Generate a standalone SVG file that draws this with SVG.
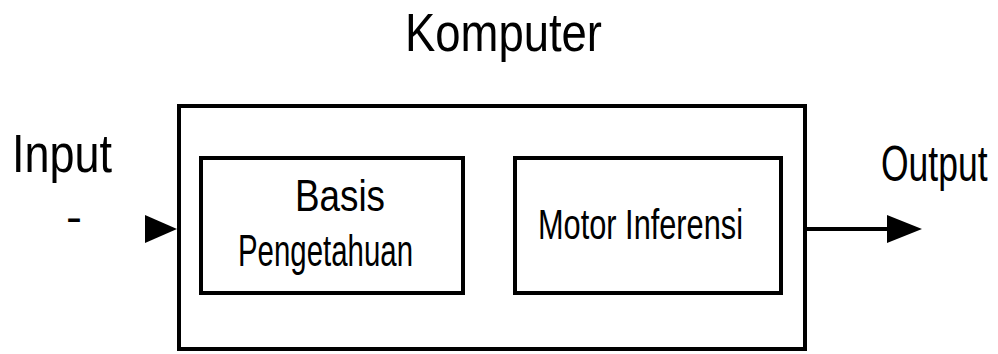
<svg xmlns="http://www.w3.org/2000/svg" width="998" height="354" viewBox="0 0 998 354">
<defs>
<style>
.box{fill:#fff;stroke:#000;stroke-width:4}
.t{font-family:"Liberation Sans",Arial,sans-serif;fill:#000}
.ln{stroke:#000;stroke-width:4;fill:none}
</style>
</defs>
<rect width="998" height="354" fill="#fff"/>
<g id="title"><text class="t" x="405" y="51" font-size="54" textLength="197" lengthAdjust="spacingAndGlyphs">Komputer</text></g>
<g id="komputer"><rect class="box" x="179" y="106" width="626" height="243"/></g>
<g id="basis"><rect class="box" x="201" y="158" width="262" height="135"/>
<text class="t" x="295" y="211" font-size="44" textLength="90" lengthAdjust="spacingAndGlyphs">Basis</text>
<text class="t" x="238" y="266" font-size="44" textLength="175" lengthAdjust="spacingAndGlyphs">Pengetahuan</text></g>
<g id="motor"><rect class="box" x="515" y="158" width="266" height="135"/>
<text class="t" x="538" y="239" font-size="43" textLength="205" lengthAdjust="spacingAndGlyphs">Motor Inferensi</text></g>
<g id="input"><text class="t" x="12" y="172" font-size="53" textLength="100" lengthAdjust="spacingAndGlyphs">Input</text>
<text class="t" x="66" y="233" font-size="46" textLength="16" lengthAdjust="spacingAndGlyphs">-</text></g>
<g id="output"><text class="t" transform="translate(881,181) scale(0.71,1)" x="0" y="0" font-size="50">Output</text></g>
<g id="connectors">
<path d="M145,215 L177,229 L145,243 Z" fill="#000"/>
<path class="ln" d="M805,229 L888,229"/>
<path d="M887,215 L922,229 L887,243 Z" fill="#000"/>
</g>
</svg>
